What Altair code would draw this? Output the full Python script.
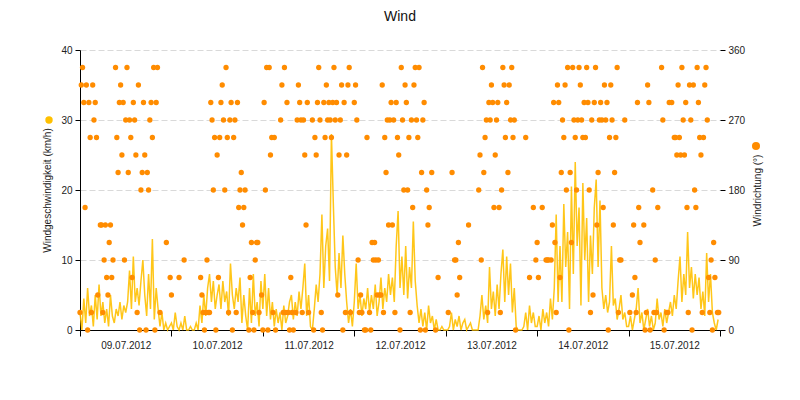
import altair as alt
import pandas as pd

FONT = "Liberation Sans"

days = ["2012-07-09", "2012-07-10", "2012-07-11", "2012-07-12",
        "2012-07-13", "2012-07-14", "2012-07-15"]

# wind speed (km/h), half-hourly, one list per day
spd_0907 = [2.5, 0, 4.5, 1, 6, 2, 3.5, 0.5, 5, 1.5, 6.5, 2, 4, 1, 3, 0.5, 5, 2, 1, 3, 2, 4, 1.5, 3.5,
            2.5, 4, 8.5, 3, 10.5, 4, 6, 3.5, 7, 10, 5, 2, 8, 3, 13, 1.5, 6, 3, 0.5, 2.5, 0, 1, 0, 0.5]
spd_1007 = [1, 0, 2.5, 0.5, 0, 1, 0, 2, 0, 0, 0.5, 0, 0, 1, 0, 3.5, 1, 5, 2, 6, 8, 4, 7, 3,
            5, 6.5, 3, 7, 4, 5.5, 2, 9.5, 5, 3, 6, 4, 7.5, 1, 5, 2, 0, 6, 1, 8, 2, 4, 0.5, 7]
spd_1107 = [3, 8, 2, 6, 1.5, 4, 0.5, 3, 1, 2.5, 0, 3.5, 1, 2, 4, 5, 1.5, 4, 2, 5.5, 3, 6, 9.5, 2,
            5, 0.5, 0, 3, 6.5, 4, 8, 16.5, 6, 12, 14.5, 7, 28, 18, 9, 5, 11, 6, 13.5, 8, 4, 1, 3, 0.5]
spd_1207 = [4, 9.5, 3, 5, 2, 4.5, 3, 6, 2.5, 5, 3, 6.5, 2, 4, 7.5, 3, 6, 4, 8, 5, 7.5, 4, 12, 17,
            6, 10.5, 5, 12, 4.5, 9, 6, 15.5, 7, 3.5, 1, 3, 0.5, 2.5, 0, 3.5, 1, 2, 0, 1.5, 0, 0, 0.5, 0]
spd_1307 = [0, 0, 0.5, 2.5, 0, 1.5, 0.5, 2, 0, 1, 1.5, 0, 0.5, 1, 0, 0, 0, 0, 2, 5, 1.5, 3.5, 1, 9,
            3, 5.5, 2, 6.5, 3, 8, 11.5, 4, 10.5, 5, 9.5, 2.5, 6, 0.5, 0, 0, 0, 0.5, 2.5, 0, 3.5, 1, 2.5, 0.5]
spd_1407 = [0.5, 2, 0, 3, 1, 2.5, 0.5, 4.5, 1.5, 6, 16.5, 4, 12, 4, 18, 9, 14, 3, 20.5, 8, 24, 12, 17.5, 3.5,
            21, 10, 16, 4, 13.5, 8, 17.5, 21.5, 9, 18.5, 6, 3, 5, 2.5, 4, 12, 3.5, 4.5, 1.5, 3, 5, 1.5, 2.5, 0.5]
spd_1507 = [0.5, 2, 0, 1.5, 3, 6, 1, 2.5, 0, 1.5, 3, 0.5, 2, 0, 1, 4.5, 1.5, 2.5, 0.5, 3, 1, 2.5, 4, 2,
            5, 3, 7, 10.5, 4, 8, 5, 14, 6, 9, 4.5, 8, 5, 7.5, 3, 5.5, 2, 11, 4, 8, 2.5, 1, 0, 1.5]

# wind direction (degrees), every 20 minutes, None = no reading
dir_0907 = [22.5, 315, 337.5, 292.5, 157.5, 315, 0, 292.5, 247.5, 22.5, 315, 270,
            292.5, 247.5, 45, None, 135, 135, 22.5, 90, 135, 67.5, 45, 112.5,
            135, 67.5, 90, None, 337.5, 247.5, 202.5, 292.5, 315, 225, 292.5, 90,
            270, 337.5, 202.5, 270, 247.5, 67.5, 292.5, 270, 225, 22.5, 315, 0,
            180, 202.5, 292.5, 225, 0, 202.5, 180, 270, 292.5, 247.5, 337.5, 0,
            292.5, 337.5, None, 22.5, None, None, None, None, 112.5, None, None, 67.5]
dir_1007 = [45, None, None, None, None, None, 67.5, None, None, None, 90, None,
            None, None, None, None, None, None, None, None, None, None, None, 67.5,
            45, 22.5, 0, 22.5, 90, 22.5, 22.5, 292.5, 270, 180, 247.5, 0,
            225, 67.5, 247.5, 292.5, 315, 270, 180, 337.5, 247.5, 22.5, 270, 292.5,
            0, 247.5, 270, 22.5, 292.5, 157.5, 180, 202.5, 135, 157.5, 180, None,
            None, 0, 67.5, 112.5, 22.5, 0, 90, 112.5, 112.5, 22.5, None, 45]
dir_1107 = [0, 292.5, 180, 337.5, 0, 337.5, 225, 247.5, 22.5, 247.5, 0, None,
            None, None, 270, 315, 22.5, 337.5, 22.5, 292.5, 22.5, 0, 67.5, 22.5,
            0, None, 22.5, 270, 315, 292.5, 270, 22.5, 270, 225, 135, 292.5,
            22.5, None, None, 270, 0, 247.5, 225, 292.5, 337.5, 270, 22.5, 0,
            292.5, 247.5, 315, 270, 292.5, 270, 247.5, 292.5, 337.5, 270, 292.5, 45,
            225, 270, 315, 0, 292.5, 22.5, 225, 315, 337.5, 22.5, None, None]
dir_1207 = [292.5, 315, 270, 90, 22.5, 45, 22.5, None, 0, 0, 247.5, None,
            22.5, 0, 112.5, 90, 112.5, 90, 45, 90, 45, 45, 315, 22.5,
            247.5, 202.5, 270, 135, 270, 292.5, 135, 270, 22.5, 292.5, 247.5, 225,
            0, 337.5, 270, 180, 315, 292.5, 180, 247.5, 22.5, 270, 157.5, 315,
            337.5, 270, 247.5, 337.5, 0, 202.5, 270, 292.5, 0, 180, 135, 157.5,
            None, 202.5, None, None, 0, None, 67.5, None, None, None, None, None]
dir_1307 = [None, None, 22.5, None, None, 202.5, None, 90, 90, 45, 112.5, 67.5,
            None, None, None, None, None, None, 135, None, None, None, None, None,
            None, None, 180, 225, 90, 337.5, 202.5, 247.5, 270, 22.5, 292.5, 270,
            315, 292.5, 157.5, 225, 270, 292.5, 157.5, 22.5, 180, 337.5, 315, 247.5,
            292.5, 202.5, 315, 270, 337.5, 247.5, 270, 0, None, None, None, None,
            None, None, None, 247.5, None, None, 67.5, None, None, 157.5, None, 90]
dir_1407 = [112.5, 67.5, None, None, 157.5, None, None, 90, 90, 90, None, 90,
            135, 292.5, 112.5, 22.5, 315, 292.5, 67.5, 202.5, 270, 247.5, 315, 180,
            337.5, 0, 202.5, 112.5, 337.5, 270, 247.5, 180, 270, 337.5, 315, 270,
            247.5, 292.5, 247.5, 337.5, 292.5, 180, 22.5, 270, 45, 292.5, 337.5, 135,
            202.5, 270, 292.5, 270, 157.5, 315, 270, 292.5, 0, 247.5, 315, 270,
            135, 202.5, 247.5, 337.5, 22.5, 90, 90, None, None, 270, None, None]
dir_1507 = [None, 22.5, None, 45, 135, 67.5, 22.5, 292.5, 157.5, 112.5, None, None,
            135, 0, 22.5, 315, 292.5, 0, None, 180, 22.5, 90, 22.5, 157.5,
            None, None, 337.5, 270, 0, None, 22.5, 22.5, 292.5, None, 292.5, None,
            247.5, 247.5, 225, 315, 247.5, 225, 337.5, 270, 225, 292.5, 157.5, 22.5,
            315, 270, 0, 315, 180, 157.5, 337.5, 292.5, 247.5, 225, 22.5, 247.5,
            315, 337.5, 270, 67.5, 22.5, 90, 0, 112.5, 67.5, None, 22.5, 22.5]

speed_by_day = [spd_0907, spd_1007, spd_1107, spd_1207, spd_1307, spd_1407, spd_1507]
dir_by_day = [dir_0907, dir_1007, dir_1107, dir_1207, dir_1307, dir_1407, dir_1507]

speed_rows = []
for d, vals in zip(days, speed_by_day):
    for t, v in zip(pd.date_range(d, periods=len(vals), freq="30min"), vals):
        speed_rows.append({"t": t.strftime("%Y-%m-%dT%H:%M:%S"), "speed": v})
speed_df = pd.DataFrame(speed_rows)

dir_rows = []
for d, vals in zip(days, dir_by_day):
    for t, v in zip(pd.date_range(d, periods=len(vals), freq="20min"), vals):
        if v is not None:
            dir_rows.append({"t": t.strftime("%Y-%m-%dT%H:%M:%S"), "dir": v})
dir_df = pd.DataFrame(dir_rows)

x_scale = alt.Scale(domain=[alt.DateTime(year=2012, month=7, date=9),
                            alt.DateTime(year=2012, month=7, date=16)])
x_axis = alt.Axis(
    values=[alt.DateTime(year=2012, month=7, date=d) for d in range(9, 17)],
    labelExpr="time(datum.value) > time(datetime(2012, 6, 15, 12)) ? '' : timeFormat(datum.value, '%d.%m.%Y')",
    labelOffset=45.7, labelFlush=False, labelOverlap=False, labelAlign="center",
    tickSize=6, labelPadding=4, grid=False, title=None,
    domainColor="#000", tickColor="#000", labelColor="#222",
    labelFont=FONT, labelFontSize=10,
)

line = alt.Chart(speed_df).mark_line(
    color="#FFC000", strokeWidth=1.5, opacity=0.9
).encode(
    x=alt.X("t:T", scale=x_scale, axis=x_axis),
    y=alt.Y("speed:Q", scale=alt.Scale(domain=[0, 40]),
            axis=alt.Axis(values=[0, 10, 20, 30, 40], title="Windgeschwindigkeit (km/h)",
                          grid=True, gridDash=[6, 3], gridColor="#d9d9d9",
                          tickSize=5, labelPadding=3, titlePadding=8,
                          domainColor="#000", tickColor="#000", labelColor="#222",
                          labelFont=FONT, labelFontSize=10,
                          titleFont=FONT, titleFontSize=10, titleFontWeight="normal",
                          titleColor="#222")),
)

points = alt.Chart(dir_df).mark_circle(color="#FF8C00", size=28, opacity=1).encode(
    x=alt.X("t:T", scale=x_scale, axis=x_axis),
    y=alt.Y("dir:Q", scale=alt.Scale(domain=[0, 360]),
            axis=alt.Axis(orient="right", values=[0, 90, 180, 270, 360],
                          title="Windrichtung (°)", grid=False, domain=False,
                          tickSize=5, labelPadding=3, titlePadding=18, titleAngle=270,
                          tickColor="#000", labelColor="#222",
                          labelFont=FONT, labelFontSize=10,
                          titleFont=FONT, titleFontSize=10, titleFontWeight="normal",
                          titleColor="#222")),
)

marker = pd.DataFrame({"k": [0]})
sym_left = alt.Chart(marker).mark_circle(color="#FFC000", size=55, opacity=1).encode(
    x=alt.value(-31), y=alt.value(70))
sym_right = alt.Chart(marker).mark_circle(color="#FF8C00", size=65, opacity=1).encode(
    x=alt.value(676), y=alt.value(96))

chart = alt.layer(line, points, sym_left, sym_right).resolve_scale(
    y="independent"
).properties(
    width=640, height=280,
    autosize=alt.AutoSizeParams(type="none"),
    padding={"left": 72, "top": 42, "right": 72, "bottom": 62},
    title=alt.TitleParams("Wind", font=FONT, fontSize=14, fontWeight="normal",
                          color="#111", anchor="middle", frame="group", offset=21),
).configure_view(stroke=None)

chart.save("out.html", embed_options={"renderer": "svg", "actions": False})
